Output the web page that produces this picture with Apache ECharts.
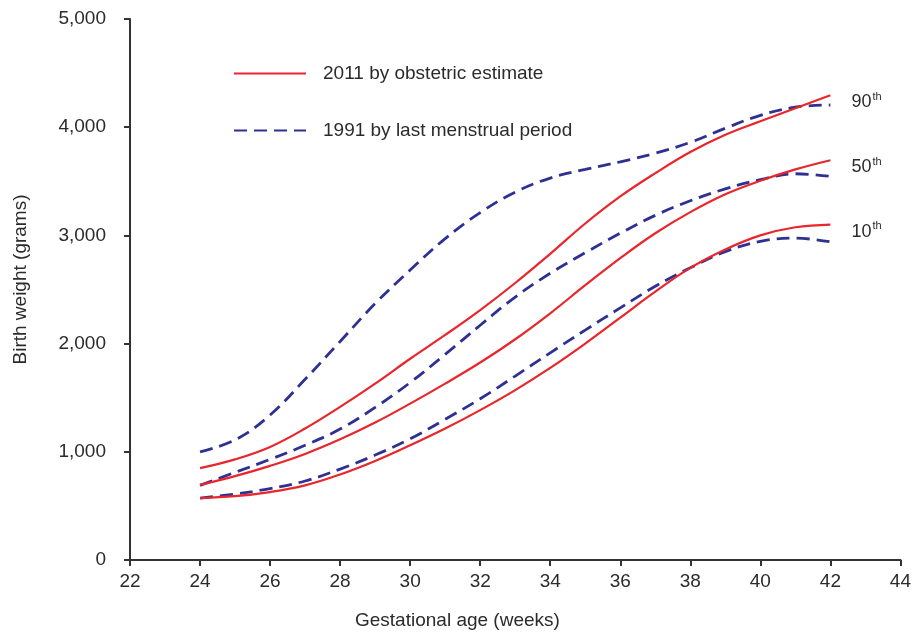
<!DOCTYPE html>
<html>
<head>
<meta charset="utf-8">
<script src="https://cdn.jsdelivr.net/npm/echarts@6/dist/echarts.min.js"></script>
<style>html,body{margin:0;padding:0;background:#fff;}#c{width:914px;height:637px;}</style>
</head>
<body>
<div id="c"></div>
<script>
const weeks = [24,25,26,27,28,29,30,31,32,33,34,35,36,37,38,39,40,41,42];
const red90 = [849, 930, 1045, 1215, 1415, 1630, 1860, 2080, 2310, 2560, 2830, 3110, 3360, 3575, 3770, 3930, 4055, 4175, 4295];
const red50 = [694, 775, 870, 980, 1115, 1270, 1445, 1630, 1825, 2040, 2280, 2540, 2790, 3020, 3215, 3380, 3505, 3610, 3695];
const red10 = [572, 590, 628, 690, 790, 915, 1060, 1215, 1385, 1570, 1775, 2000, 2240, 2480, 2700, 2870, 3000, 3075, 3100];
const blue90 = [1000, 1110, 1340, 1670, 2020, 2370, 2680, 2970, 3210, 3400, 3530, 3610, 3680, 3760, 3860, 3990, 4110, 4185, 4205];
const blue50 = [690, 810, 930, 1060, 1210, 1410, 1640, 1900, 2170, 2430, 2650, 2840, 3020, 3185, 3320, 3430, 3515, 3570, 3545];
const blue10 = [572, 610, 660, 730, 840, 970, 1120, 1300, 1490, 1700, 1915, 2125, 2330, 2530, 2700, 2850, 2945, 2975, 2940];
const seriesNames = ['2011 by obstetric estimate', '1991 by last menstrual period'];
const percentileLabels = ['90', '50', '10'];
const xAxisTitle = 'Gestational age (weeks)';
const yAxisTitle = 'Birth weight (grams)';

const RED = '#e8262b', BLUE = '#2e3192', TXT = '#2b2b2b';
const FONT = 'Liberation Sans, Arial, sans-serif';
const FS = 19;
const pairs = arr => weeks.map((w, i) => [w, arr[i]]);

function redSeries(arr, lab) {
  return {
    name: seriesNames[0], type: 'line', data: pairs(arr), smooth: 0.4, symbol: 'none', showSymbol: false,
    lineStyle: {color: RED, width: 2.2}, itemStyle: {color: RED}, z: 3,
    endLabel: {
      show: true, offset: [13, 6],
      formatter: '{a|' + lab + '}{b|th}',
      rich: {
        a: {fontSize: 18, fontFamily: FONT, color: TXT, lineHeight: 20, verticalAlign: 'bottom'},
        b: {fontSize: 11, fontFamily: FONT, color: TXT, lineHeight: 20, verticalAlign: 'top', padding: [0,0,9,1]}
      }
    }
  };
}
function blueSeries(arr) {
  return {
    name: seriesNames[1], type: 'line', data: pairs(arr), smooth: 0.4, symbol: 'none', showSymbol: false,
    lineStyle: {color: BLUE, width: 2.8, type: [13, 7]}, itemStyle: {color: BLUE}, z: 2
  };
}

const chart = echarts.init(document.getElementById('c'));
chart.setOption({
  animation: false,
  backgroundColor: '#ffffff',
  grid: {left: 130, right: 11, top: 19, bottom: 77, containLabel: false},
  legend: {
    data: seriesNames, orient: 'vertical', left: 233, top: 64, padding: 0,
    itemWidth: 72, itemHeight: 14, itemGap: 38,
    itemStyle: {opacity: 0},
    textStyle: {fontSize: FS, fontFamily: FONT, color: TXT, padding: [0,0,0,12]},
    selectedMode: false
  },
  xAxis: {
    type: 'value', min: 22, max: 44, interval: 2,
    axisLine: {show: true, onZero: false, lineStyle: {color: '#333', width: 2}},
    axisTick: {show: true, length: 6, lineStyle: {color: '#333', width: 2}},
    axisLabel: {fontSize: FS, fontFamily: FONT, color: TXT, margin: 12},
    splitLine: {show: false}
  },
  yAxis: {
    type: 'value', min: 0, max: 5000, interval: 1000,
    name: yAxisTitle, nameLocation: 'middle', nameGap: 100, nameRotate: 90,
    nameTextStyle: {fontSize: FS, fontFamily: FONT, color: TXT, padding: [0, 0, 0, 20]},
    axisLine: {show: true, lineStyle: {color: '#333', width: 2}},
    axisTick: {show: true, length: 6, lineStyle: {color: '#333', width: 2}},
    axisLabel: {fontSize: FS, fontFamily: FONT, color: TXT, margin: 24,
      formatter: v => v.toLocaleString('en-US')},
    splitLine: {show: false}
  },
  graphic: [{
    type: 'text', left: 355, top: 611, style: {text: xAxisTitle, fontSize: FS, fontFamily: FONT, fill: TXT}
  }],
  series: [
    blueSeries(blue90), blueSeries(blue50), blueSeries(blue10),
    redSeries(red90, percentileLabels[0]), redSeries(red50, percentileLabels[1]), redSeries(red10, percentileLabels[2])
  ]
});
</script>
</body>
</html>
